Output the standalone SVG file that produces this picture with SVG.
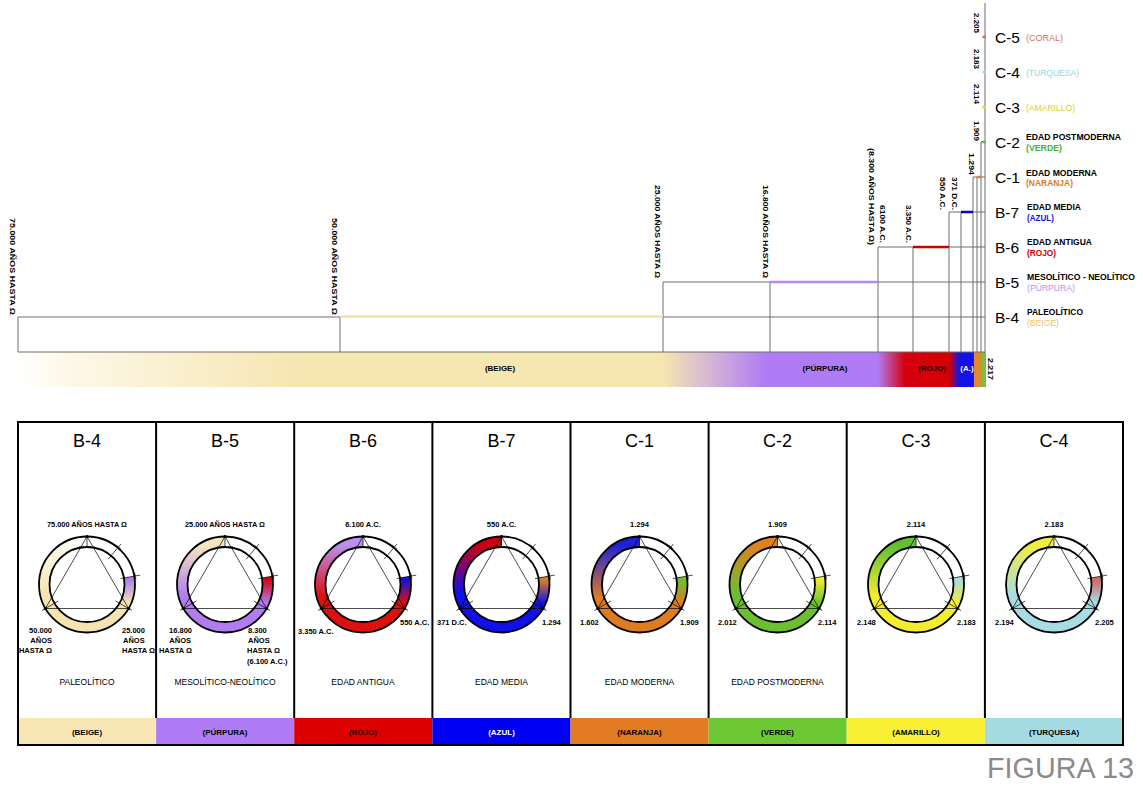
<svg xmlns="http://www.w3.org/2000/svg" xmlns:xlink="http://www.w3.org/1999/xlink" width="1143" height="786" viewBox="0 0 1143 786">
<style>
text{font-family:"Liberation Sans",Arial,sans-serif;fill:#000}
.ln{stroke:#6e6e6e;stroke-width:1;fill:none}
.vt{font-size:8px;font-weight:bold}
.big{font-size:15.5px}
.lab{font-size:8.5px;font-weight:bold}
.sm{font-size:7.5px;font-weight:bold}
.hd{font-size:18px;text-anchor:middle}
.nm{font-size:8.5px;text-anchor:middle}
.bd{font-size:8px;font-weight:bold;text-anchor:middle}
.mid{text-anchor:middle}
.end{text-anchor:end}
.ring{fill:none;stroke-width:10.5}
.dl{fill:none;stroke:#000;stroke-width:0.7}
.frm{fill:none;stroke:#000;stroke-width:2}
</style>
<defs>
<linearGradient id="bar" gradientUnits="userSpaceOnUse" x1="18" y1="0" x2="986" y2="0">
<stop offset="0" stop-color="#ffffff"/>
<stop offset="0.05" stop-color="#fdf8e8"/>
<stop offset="0.29" stop-color="#f6e6b2"/>
<stop offset="0.666" stop-color="#f6e6b0"/>
<stop offset="0.72" stop-color="#d2b0d8"/>
<stop offset="0.772" stop-color="#b07cf5"/>
<stop offset="0.888" stop-color="#b07cf5"/>
<stop offset="0.916" stop-color="#d40010"/>
<stop offset="0.962" stop-color="#d40000"/>
<stop offset="0.972" stop-color="#1414e0"/>
<stop offset="0.987" stop-color="#1010f0"/>
<stop offset="0.988" stop-color="#e08a30"/>
<stop offset="0.995" stop-color="#e08a30"/>
<stop offset="0.996" stop-color="#78c040"/>
<stop offset="1" stop-color="#78c040"/>
</linearGradient>
<linearGradient id="L1" x1="0" y1="0" x2="0" y2="1"><stop offset="0.05" stop-color="#fdfbf2"/><stop offset="0.8" stop-color="#f6e4b0"/></linearGradient>
<linearGradient id="L2" x1="0" y1="0" x2="0" y2="1"><stop offset="0.05" stop-color="#f4e6c0"/><stop offset="0.85" stop-color="#b07cf0"/></linearGradient>
<linearGradient id="L3" x1="0" y1="0" x2="0" y2="1"><stop offset="0.05" stop-color="#b890f0"/><stop offset="0.85" stop-color="#dd1010"/></linearGradient>
<linearGradient id="L4" x1="0" y1="0" x2="0" y2="1"><stop offset="0.05" stop-color="#cc0010"/><stop offset="0.8" stop-color="#1010ea"/></linearGradient>
<linearGradient id="L5" x1="0" y1="0" x2="0" y2="1"><stop offset="0.05" stop-color="#2020d8"/><stop offset="0.88" stop-color="#e07c20"/></linearGradient>
<linearGradient id="L6" x1="0" y1="0" x2="0" y2="1"><stop offset="0.05" stop-color="#e08020"/><stop offset="0.8" stop-color="#6cc030"/></linearGradient>
<linearGradient id="L7" x1="0" y1="0" x2="0" y2="1"><stop offset="0.05" stop-color="#60c030"/><stop offset="0.85" stop-color="#f4ec30"/></linearGradient>
<linearGradient id="L8" x1="0" y1="0" x2="0" y2="1"><stop offset="0.05" stop-color="#f0ee40"/><stop offset="0.85" stop-color="#a8dce4"/></linearGradient>
<linearGradient id="R1" x1="0" y1="0" x2="0" y2="1"><stop offset="0.08" stop-color="#b07cf0"/><stop offset="0.9" stop-color="#f6e4b0"/></linearGradient>
<linearGradient id="R2" x1="0" y1="0" x2="0" y2="1"><stop offset="0.08" stop-color="#d80010"/><stop offset="0.9" stop-color="#b07cf0"/></linearGradient>
<linearGradient id="R3" x1="0" y1="0" x2="0" y2="1"><stop offset="0.08" stop-color="#1010e0"/><stop offset="0.9" stop-color="#dd1010"/></linearGradient>
<linearGradient id="R4" x1="0" y1="0" x2="0" y2="1"><stop offset="0.08" stop-color="#e08020"/><stop offset="0.9" stop-color="#1010ea"/></linearGradient>
<linearGradient id="R5" x1="0" y1="0" x2="0" y2="1"><stop offset="0.08" stop-color="#6cc030"/><stop offset="0.9" stop-color="#e07c20"/></linearGradient>
<linearGradient id="R6" x1="0" y1="0" x2="0" y2="1"><stop offset="0.08" stop-color="#f0f030"/><stop offset="0.9" stop-color="#6cc030"/></linearGradient>
<linearGradient id="R7" x1="0" y1="0" x2="0" y2="1"><stop offset="0.08" stop-color="#a8dce4"/><stop offset="0.9" stop-color="#f4ec30"/></linearGradient>
<linearGradient id="R8" x1="0" y1="0" x2="0" y2="1"><stop offset="0.08" stop-color="#d06868"/><stop offset="0.9" stop-color="#a8dce4"/></linearGradient>
<path id="arcAll" d="M0 -42.75 A42.75 42.75 0 1 0 42.1 -7.42"/>
<path id="arcL" d="M0 -42.75 A42.75 42.75 0 0 0 -37.02 21.375"/>
<path id="arcR" d="M37.02 21.375 A42.75 42.75 0 0 0 42.1 -7.42"/>
<g id="dial">
<circle r="48" fill="none" stroke="#000" stroke-width="1.8"/>
<circle r="37.5" fill="none" stroke="#000" stroke-width="1.8"/>
<path class="dl" d="M0 -48 L41.57 24 L-41.57 24 Z M-8 -37.5 H8 M0 -37.5 V-48 M21.2 -25.3 L34.1 -40.6 M33.8 -35.6 L29.2 -39.4 M33.5 -5.9 L53.2 -9.4 M48.9 -5 L47.7 -11.9 M28.6 16.5 L45 26 M-28.6 16.5 L-45 26"/>
<circle cx="0" cy="-48" r="1.6"/>
<circle cx="41.57" cy="24" r="1.6"/>
<circle cx="-41.57" cy="24" r="1.6"/>
</g>
</defs>
<rect x="0" y="0" width="1143" height="786" fill="#fff"/>

<g id="timeline-bar">
<rect x="18" y="352" width="968" height="35" fill="url(#bar)"/>
<text class="bd" x="500" y="371">(BEIGE)</text>
<text class="bd" x="825" y="371">(PÚRPURA)</text>
<text class="bd" x="932" y="371" style="fill:#300">(ROJO)</text>
<text class="bd" x="967" y="371" style="fill:#fff">(A.)</text>
<text class="vt" x="988" y="358" transform="rotate(90 988 358)" textLength="22" lengthAdjust="spacingAndGlyphs">2.217</text>
</g>

<g id="connectors">
<path class="ln" d="M18 352 H985 M18 317 H340 M663 317 H985 M663 282 H770 M878 282 H985 M878 247 H913 M949 247 H985 M949 212 H961 M973 212 H985 M973 177 H977 M981 177 H985 M18 317 V352 M340 317 V352 M663 282 V352 M770 282 V352 M878 247 V352 M913 247 V352 M949 212 V352 M961 212 V352 M973 177 V352 M977 177 V352 M981 142 V352 M985 3 V352"/>
<path d="M340 316.5 H663" stroke="#f5e2a8" stroke-width="2.5"/>
<path d="M770 282 H878" stroke="#b48cf0" stroke-width="2.5"/>
<path d="M913 247 H949" stroke="#d00000" stroke-width="2.5"/>
<path d="M961 212 H973" stroke="#0000d0" stroke-width="2.5"/>
<path d="M977 177 H981" stroke="#e08030" stroke-width="2.5"/>
<path d="M981 142 H986" stroke="#60c040" stroke-width="2.5"/>
<path d="M982.5 107 H986" stroke="#e0d830" stroke-width="2.5"/>
<path d="M982.5 72 H986" stroke="#a0d8e8" stroke-width="2.5"/>
<path d="M982.5 37 H986" stroke="#d07060" stroke-width="2.5"/>
</g>

<g id="timeline-dates">
<text class="vt" x="10" y="218" transform="rotate(90 10 218)" textLength="97" lengthAdjust="spacingAndGlyphs">75.000 AÑOS HASTA Ω</text>
<text class="vt" x="332" y="218" transform="rotate(90 332 218)" textLength="97" lengthAdjust="spacingAndGlyphs">50.000 AÑOS HASTA Ω</text>
<text class="vt" x="655" y="185" transform="rotate(90 655 185)" textLength="93" lengthAdjust="spacingAndGlyphs">25.000 AÑOS HASTA Ω</text>
<text class="vt" x="763" y="185" transform="rotate(90 763 185)" textLength="93" lengthAdjust="spacingAndGlyphs">16.800 AÑOS HASTA Ω</text>
<text class="vt" x="869" y="148" transform="rotate(90 869 148)" textLength="97" lengthAdjust="spacingAndGlyphs">(8.300 AÑOS HASTA Ω)</text>
<text class="vt" x="880" y="205" transform="rotate(90 880 205)" textLength="38" lengthAdjust="spacingAndGlyphs">6100 A.C.</text>
<text class="vt" x="906" y="205" transform="rotate(90 906 205)" textLength="38" lengthAdjust="spacingAndGlyphs">3.350 A.C.</text>
<text class="vt" x="940" y="177" transform="rotate(90 940 177)" textLength="33" lengthAdjust="spacingAndGlyphs">550 A.C.</text>
<text class="vt" x="952" y="177" transform="rotate(90 952 177)" textLength="33" lengthAdjust="spacingAndGlyphs">371 D.C.</text>
<text class="vt" x="969" y="153" transform="rotate(90 969 153)" textLength="22" lengthAdjust="spacingAndGlyphs">1.294</text>
<text class="vt" x="974" y="121" transform="rotate(90 974 121)" textLength="20" lengthAdjust="spacingAndGlyphs">1.909</text>
<text class="vt" x="974" y="84" transform="rotate(90 974 84)" textLength="20" lengthAdjust="spacingAndGlyphs">2.114</text>
<text class="vt" x="974" y="49" transform="rotate(90 974 49)" textLength="20" lengthAdjust="spacingAndGlyphs">2.183</text>
<text class="vt" x="974" y="13" transform="rotate(90 974 13)" textLength="20" lengthAdjust="spacingAndGlyphs">2.205</text>
</g>

<g id="level-C5"><text class="big" x="995" y="43">C-5</text><text class="lab" x="1026" y="41" style="fill:#d2735c;font-weight:normal" textLength="37" lengthAdjust="spacingAndGlyphs">(CORAL)</text></g>
<g id="level-C4"><text class="big" x="995" y="78">C-4</text><text class="lab" x="1026" y="76" style="fill:#95d3e3;font-weight:normal" textLength="53" lengthAdjust="spacingAndGlyphs">(TURQUESA)</text></g>
<g id="level-C3"><text class="big" x="995" y="113">C-3</text><text class="lab" x="1026" y="111" style="fill:#d8d02a;font-weight:normal" textLength="49" lengthAdjust="spacingAndGlyphs">(AMARILLO)</text></g>
<g id="level-C2"><text class="big" x="995" y="148">C-2</text><text class="lab" x="1026" y="140" textLength="95" lengthAdjust="spacingAndGlyphs">EDAD POSTMODERNA</text><text class="lab" x="1026" y="150.5" style="fill:#4caf2a" textLength="36" lengthAdjust="spacingAndGlyphs">(VERDE)</text></g>
<g id="level-C1"><text class="big" x="995" y="183">C-1</text><text class="lab" x="1026" y="175.5" textLength="71" lengthAdjust="spacingAndGlyphs">EDAD MODERNA</text><text class="lab" x="1026" y="186" style="fill:#de7a1c" textLength="47" lengthAdjust="spacingAndGlyphs">(NARANJA)</text></g>
<g id="level-B7"><text class="big" x="995" y="218">B-7</text><text class="lab" x="1027" y="209.5" textLength="54" lengthAdjust="spacingAndGlyphs">EDAD MEDIA</text><text class="lab" x="1027" y="220.5" style="fill:#1a1acc" textLength="27" lengthAdjust="spacingAndGlyphs">(AZUL)</text></g>
<g id="level-B6"><text class="big" x="995" y="253">B-6</text><text class="lab" x="1027" y="245" textLength="65" lengthAdjust="spacingAndGlyphs">EDAD ANTIGUA</text><text class="lab" x="1027" y="255.5" style="fill:#cc0000" textLength="29" lengthAdjust="spacingAndGlyphs">(ROJO)</text></g>
<g id="level-B5"><text class="big" x="995" y="288">B-5</text><text class="lab" x="1027" y="279.5" textLength="108" lengthAdjust="spacingAndGlyphs">MESOLÍTICO - NEOLÍTICO</text><text class="lab" x="1027" y="290.5" style="fill:#b394f0;font-weight:normal" textLength="48" lengthAdjust="spacingAndGlyphs">(PÚRPURA)</text></g>
<g id="level-B4"><text class="big" x="995" y="323">B-4</text><text class="lab" x="1027" y="315" textLength="56" lengthAdjust="spacingAndGlyphs">PALEOLÍTICO</text><text class="lab" x="1027" y="326" style="fill:#eec46a;font-weight:normal" textLength="32" lengthAdjust="spacingAndGlyphs">(BEIGE)</text></g>

<g id="bands">
<rect x="18" y="718" width="138.1" height="27" fill="#f8e6b5"/>
<rect x="156.1" y="718" width="138.1" height="27" fill="#b07cf6"/>
<rect x="294.2" y="718" width="138.2" height="27" fill="#dd0000"/>
<rect x="432.4" y="718" width="138.1" height="27" fill="#0000f5"/>
<rect x="570.5" y="718" width="138.1" height="27" fill="#e27b22"/>
<rect x="708.6" y="718" width="138.1" height="27" fill="#6cc832"/>
<rect x="846.7" y="718" width="138.2" height="27" fill="#faf033"/>
<rect x="984.9" y="718" width="138.1" height="27" fill="#a4dbe3"/>
<text class="bd" x="87" y="735">(BEIGE)</text>
<text class="bd" x="225" y="735">(PÚRPURA)</text>
<text class="bd" x="363" y="735" style="fill:#300">(ROJO)</text>
<text class="bd" x="501.5" y="735" style="fill:#fff">(AZUL)</text>
<text class="bd" x="639.5" y="735">(NARANJA)</text>
<text class="bd" x="777.5" y="735">(VERDE)</text>
<text class="bd" x="916" y="735">(AMARILLO)</text>
<text class="bd" x="1054" y="735">(TURQUESA)</text>
</g>
<g id="panel-frame">
<rect class="frm" x="18" y="422" width="1105" height="323"/>
<path class="frm" d="M156.1 422 V718 M294.2 422 V718 M432.4 422 V718 M570.5 422 V718 M708.6 422 V718 M846.7 422 V718 M984.9 422 V718"/>
</g>

<g id="panel-B4">
<text class="hd" x="87" y="447">B-4</text>
<g transform="translate(87 584.5)"><use href="#arcAll" class="ring" stroke="#f6e4b0"/><use href="#arcL" class="ring" stroke="url(#L1)"/><use href="#arcR" class="ring" stroke="url(#R1)"/><use href="#dial"/></g>
<text class="sm mid" x="87" y="527" textLength="80" lengthAdjust="spacingAndGlyphs">75.000 AÑOS HASTA Ω</text>
<text class="sm end" x="52" y="633">50.000</text><text class="sm end" x="52" y="643">AÑOS</text><text class="sm end" x="52" y="653">HASTA Ω</text>
<text class="sm" x="122" y="633">25.000</text><text class="sm" x="123" y="643">AÑOS</text><text class="sm" x="122" y="653">HASTA Ω</text>
<text class="nm" x="87" y="685">PALEOLÍTICO</text>
</g>
<g id="panel-B5">
<text class="hd" x="225" y="447">B-5</text>
<g transform="translate(225 584.5)"><use href="#arcAll" class="ring" stroke="#b07cf0"/><use href="#arcL" class="ring" stroke="url(#L2)"/><use href="#arcR" class="ring" stroke="url(#R2)"/><use href="#dial"/></g>
<text class="sm mid" x="225" y="527" textLength="80" lengthAdjust="spacingAndGlyphs">25.000 AÑOS HASTA Ω</text>
<text class="sm end" x="192" y="633">16.800</text><text class="sm end" x="191" y="643">AÑOS</text><text class="sm end" x="192" y="653">HASTA Ω</text>
<text class="sm" x="248" y="633">8.300</text><text class="sm" x="248" y="643">AÑOS</text><text class="sm" x="247" y="653">HASTA Ω</text><text class="sm" x="247" y="664">(6.100 A.C.)</text>
<text class="nm" x="225" y="685">MESOLÍTICO-NEOLÍTICO</text>
</g>
<g id="panel-B6">
<text class="hd" x="363" y="447">B-6</text>
<g transform="translate(363 584.5)"><use href="#arcAll" class="ring" stroke="#dd1010"/><use href="#arcL" class="ring" stroke="url(#L3)"/><use href="#arcR" class="ring" stroke="url(#R3)"/><use href="#dial"/></g>
<text class="sm mid" x="363" y="527">6.100 A.C.</text>
<text class="sm" x="298" y="634">3.350 A.C.</text>
<text class="sm" x="400" y="625">550 A.C.</text>
<text class="nm" x="363" y="685">EDAD ANTIGUA</text>
</g>
<g id="panel-B7">
<text class="hd" x="501.5" y="447">B-7</text>
<g transform="translate(501.5 584.5)"><use href="#arcAll" class="ring" stroke="#1010ea"/><use href="#arcL" class="ring" stroke="url(#L4)"/><use href="#arcR" class="ring" stroke="url(#R4)"/><use href="#dial"/></g>
<text class="sm mid" x="501.5" y="527">550 A.C.</text>
<text class="sm" x="437" y="625">371 D.C.</text>
<text class="sm" x="542" y="625">1.294</text>
<text class="nm" x="501.5" y="685">EDAD MEDIA</text>
</g>
<g id="panel-C1">
<text class="hd" x="639.5" y="447">C-1</text>
<g transform="translate(639.5 584.5)"><use href="#arcAll" class="ring" stroke="#e07c20"/><use href="#arcL" class="ring" stroke="url(#L5)"/><use href="#arcR" class="ring" stroke="url(#R5)"/><use href="#dial"/></g>
<text class="sm mid" x="639.5" y="527">1.294</text>
<text class="sm" x="580" y="625">1.602</text>
<text class="sm" x="680" y="625">1.909</text>
<text class="nm" x="639.5" y="685">EDAD MODERNA</text>
</g>
<g id="panel-C2">
<text class="hd" x="777.5" y="447">C-2</text>
<g transform="translate(777.5 584.5)"><use href="#arcAll" class="ring" stroke="#6cc030"/><use href="#arcL" class="ring" stroke="url(#L6)"/><use href="#arcR" class="ring" stroke="url(#R6)"/><use href="#dial"/></g>
<text class="sm mid" x="777.5" y="527">1.909</text>
<text class="sm" x="718" y="625">2.012</text>
<text class="sm" x="818" y="625">2.114</text>
<text class="nm" x="777.5" y="685">EDAD POSTMODERNA</text>
</g>
<g id="panel-C3">
<text class="hd" x="916" y="447">C-3</text>
<g transform="translate(916 584.5)"><use href="#arcAll" class="ring" stroke="#f4ec30"/><use href="#arcL" class="ring" stroke="url(#L7)"/><use href="#arcR" class="ring" stroke="url(#R7)"/><use href="#dial"/></g>
<text class="sm mid" x="916" y="527">2.114</text>
<text class="sm" x="857" y="625">2.148</text>
<text class="sm" x="957" y="625">2.183</text>
</g>
<g id="panel-C4">
<text class="hd" x="1054" y="447">C-4</text>
<g transform="translate(1054 584.5)"><use href="#arcAll" class="ring" stroke="#a8dce4"/><use href="#arcL" class="ring" stroke="url(#L8)"/><use href="#arcR" class="ring" stroke="url(#R8)"/><use href="#dial"/></g>
<text class="sm mid" x="1054" y="527">2.183</text>
<text class="sm" x="995" y="625">2.194</text>
<text class="sm" x="1095" y="625">2.205</text>
</g>

<g id="title">
<text x="987" y="778" style="font-size:30px;fill:#8a8a8a" textLength="147" lengthAdjust="spacingAndGlyphs">FIGURA 13</text>
</g>
</svg>
